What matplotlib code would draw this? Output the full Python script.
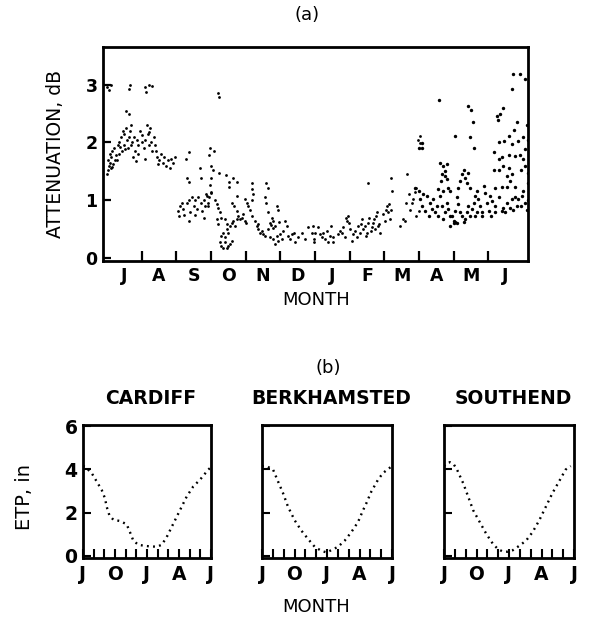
import numpy as np
import matplotlib
matplotlib.use('Agg')
import matplotlib.pyplot as plt

# ---- (a) attenuation, dB vs month (0 = start of July) ----
# Jul - Aug
jul_aug_x = [0.0, 0.05, 0.1, 0.65, 0.63, 1.1, 1.2, 1.3, 1.12, 0.55, 0.62,
             0.0, 0.02, 0.05, 0.03, 0.08, 0.1, 0.12, 0.15, 0.18, 0.2, 0.22, 0.25,
             0.3, 0.33, 0.35, 0.4, 0.42, 0.45, 0.48, 0.5, 0.55, 0.58, 0.6, 0.62,
             0.65, 0.7, 0.72, 0.75, 0.78, 0.8, 0.82, 0.85, 0.9, 0.95, 1.0, 1.05,
             1.1, 1.15, 1.18, 1.2, 1.25, 1.28, 1.3, 1.35, 1.4, 1.45, 1.5, 1.55,
             1.6, 1.65, 1.7, 1.75, 1.8, 1.85, 1.9, 1.95,
             0.07, 0.14, 0.28, 0.38, 0.52, 0.68, 0.88, 1.02, 1.08, 1.22, 1.38, 1.48]
jul_aug_db = [2.95, 2.9, 3.0, 3.0, 2.93, 2.95, 3.0, 2.97, 2.88, 2.55, 2.5,
              1.45, 1.52, 1.6, 1.7, 1.65, 1.55, 1.75, 1.85, 1.62, 1.9, 1.7, 1.78,
              1.95, 2.0, 1.8, 2.1, 1.85, 2.2, 1.95, 2.15, 2.25, 2.05, 1.9, 2.1,
              2.2, 1.95, 2.0, 1.75, 2.1, 1.85, 1.68, 2.05, 1.95, 2.2, 2.0, 1.9,
              2.05, 2.3, 2.15, 1.95, 2.25, 2.0, 1.85, 2.1, 1.85, 1.75, 1.7, 1.8,
              1.65, 1.75, 1.6, 1.7, 1.55, 1.72, 1.65, 1.75,
              1.8, 1.58, 1.7, 1.92, 1.88, 2.3, 1.8, 2.12, 1.72, 2.18, 1.95, 1.62]

# Sep - Nov
sep_nov_x = [2.27, 2.37, 2.3, 2.37, 2.68, 2.7,
             2.05, 2.07, 2.1, 2.15, 2.2, 2.22, 2.3, 2.35, 2.38, 2.45, 2.5, 2.55,
             2.6, 2.62, 2.7, 2.75, 2.8, 2.85, 2.9, 2.95, 3.0, 2.35, 2.55, 2.8,
             3.21, 3.23, 2.96, 2.94, 3.09, 3.0, 3.06, 3.23, 3.42, 3.64, 3.52, 3.76,
             3.52, 3.74, 2.99, 2.97, 3.0, 2.87, 2.9, 2.82, 3.11, 3.16, 3.21, 3.26,
             3.3, 3.16, 3.21,
             3.26, 3.3, 3.35, 3.4, 3.45, 3.5, 3.55, 3.59, 3.3, 3.35, 3.4, 3.5,
             3.45, 3.55, 3.59, 3.64, 3.69, 3.74,
             3.4, 3.45, 3.59, 3.67, 3.74, 3.79, 3.83, 3.88, 3.93, 3.98, 4.02, 4.07,
             3.98, 4.05, 4.12, 4.17, 4.17, 4.19, 4.22, 4.17,
             4.27, 4.32, 4.36, 4.41, 4.46, 4.36, 4.51, 4.56, 4.6, 4.63, 4.56, 4.6,
             4.65, 4.7, 4.75, 4.79, 4.84, 4.89, 4.94, 4.7, 4.79, 4.84, 4.89, 4.99,
             5.04, 4.65, 4.72, 4.8, 4.95, 4.92]
sep_nov_db = [1.71, 1.83, 1.39, 1.31, 1.55, 1.38,
              0.82, 0.72, 0.9, 0.95, 0.85, 0.75, 0.95, 1.0, 0.8, 1.05, 0.9, 1.0,
              0.85, 1.05, 0.95, 0.82, 1.0, 1.1, 0.9, 1.05, 1.15, 0.65, 0.75, 0.7,
              2.86, 2.79, 1.91, 1.79, 1.85, 1.59, 1.52, 1.47, 1.43, 1.39, 1.31, 1.31,
              1.23, 1.08, 1.39, 1.27, 1.13, 1.07, 0.96, 0.9, 1.0, 0.93, 0.87, 0.79,
              0.7, 0.67, 0.59,
              0.27, 0.21, 0.18, 0.27, 0.18, 0.21, 0.24, 0.3, 0.38, 0.44, 0.36, 0.44,
              0.5, 0.56, 0.61, 0.64, 0.56, 0.67,
              0.67, 0.59, 0.96, 0.9, 0.82, 0.73, 0.67, 0.7, 0.76, 0.64, 0.61, 0.9,
              1.02, 0.96, 0.84, 0.73, 1.3, 1.19, 1.1, 1.0,
              0.64, 0.56, 0.5, 0.44, 0.47, 0.59, 0.41, 0.38, 1.3, 1.22, 1.05, 0.96,
              0.5, 0.61, 0.7, 0.64, 0.56, 0.9, 0.84, 0.36, 0.33, 0.24, 0.38, 0.41,
              0.33, 0.8, 0.58, 0.52, 0.62, 0.3]

# Dec - Mar
dec_mar_x = [5.09, 5.14, 5.18, 5.23, 5.28, 5.33, 5.38, 5.42, 5.52, 5.62, 5.71,
             5.81, 5.91, 5.95, 5.98,
             6.0, 5.97, 6.1, 6.14, 6.19, 6.24, 6.29, 6.34, 6.39, 6.43, 6.45, 6.51,
             6.53, 6.67, 6.72,
             6.77, 6.82, 6.87, 6.9, 6.93, 6.96, 6.99, 7.01, 7.06, 7.11, 7.16, 7.2,
             7.25, 7.3, 7.32, 7.35, 7.4, 7.45, 7.47, 7.51, 7.54, 7.57, 7.61, 7.64,
             7.67, 7.71, 7.74, 7.76, 7.8, 7.83, 7.86, 7.88,
             7.97, 8.02, 8.05, 8.09, 8.12, 8.17, 8.19, 8.15, 8.22, 8.19, 7.54, 8.46,
             8.55, 8.63, 8.65, 8.74, 8.79, 8.84, 8.92, 8.99, 8.92, 8.96, 9.02, 9.04,
             8.6, 8.7, 8.88]
dec_mar_db = [0.47, 0.64, 0.56, 0.38, 0.33, 0.41, 0.44, 0.27, 0.36, 0.44, 0.33,
              0.53, 0.44, 0.56, 0.33,
              0.44, 0.28, 0.53, 0.41, 0.36, 0.44, 0.33, 0.47, 0.27, 0.38, 0.56, 0.27,
              0.36, 0.41, 0.47,
              0.44, 0.53, 0.36, 0.7, 0.64, 0.73, 0.61, 0.5, 0.3, 0.41, 0.47, 0.36,
              0.56, 0.44, 0.59, 0.67, 0.5, 0.56, 0.38, 0.44, 0.61, 0.7, 0.47, 0.53,
              0.61, 0.67, 0.5, 0.73, 0.79, 0.56, 0.59, 0.44,
              0.76, 0.64, 0.84, 0.9, 0.79, 0.67, 0.84, 0.93, 1.16, 1.39, 1.3, 0.56,
              0.67, 0.96, 1.45, 0.84, 0.96, 1.02, 1.22, 0.82, 0.73, 2.05, 1.99, 2.11,
              0.65, 1.1, 1.15]

# Apr - Jun
apr_jun_x = [9.08, 8.99, 9.1, 9.58,
             8.89, 8.99, 9.03, 9.08, 9.13, 9.18, 9.23, 9.28, 9.32, 9.37, 9.42, 9.47,
             9.52, 9.56, 9.61, 9.66, 9.71, 9.76, 9.81, 9.85, 9.9, 9.61, 9.71, 9.81,
             9.76, 9.66, 9.64, 9.74, 9.81, 9.85, 9.9, 9.56, 9.71, 10.05, 10.0, 9.9,
             10.05, 10.48, 10.43, 10.51, 10.55, 10.58,
             10.14, 10.19, 10.24, 10.29, 10.33, 10.38, 10.43, 10.48, 10.09, 10.14,
             10.05, 10.19, 10.24, 10.33, 10.38, 10.43, 10.48, 10.53, 10.58, 10.62,
             10.67, 10.72, 10.77, 10.82, 10.87, 10.91, 10.96, 11.01, 9.95, 10.0,
             10.09, 10.29, 10.62, 10.67, 10.82,
             11.73, 11.93, 12.07, 11.69, 11.44, 11.35, 11.28, 11.25,
             11.83, 11.76, 11.61, 11.47, 11.3, 11.69, 11.86, 12.0, 12.16, 12.07,
             11.93, 11.78, 11.59, 11.41, 11.3, 11.18, 11.16, 11.3, 11.44, 11.59,
             11.69, 11.54, 11.64, 11.78, 11.54, 11.4, 11.2, 12.0, 12.07, 12.16, 11.96,
             11.06, 11.11, 11.2, 11.3, 11.4, 11.44, 11.54, 11.64, 11.69, 11.78,
             11.83, 11.86, 11.97, 12.0, 12.07, 12.12, 11.96, 11.73, 11.49, 11.2,
             11.09, 12.15, 12.15, 12.12]
apr_jun_db = [1.99, 1.91, 1.91, 2.73,
              1.22, 1.16, 1.02, 0.9, 1.1, 0.81, 1.07, 0.73, 0.96, 0.85, 1.02, 0.79,
              0.9, 0.73, 1.07, 0.9, 0.67, 0.79, 0.96, 0.85, 0.73, 1.65, 1.59, 1.62,
              1.5, 1.45, 1.33, 1.42, 1.36, 1.22, 1.16, 1.19, 1.16, 0.63, 0.6, 0.56,
              2.11, 2.1, 2.63, 2.56, 2.35, 1.91,
              1.22, 1.33, 1.45, 1.53, 1.39, 1.3, 1.48, 1.22, 1.05, 0.93,
              0.82, 0.79, 0.73, 0.67, 0.79, 0.9, 0.73, 0.85, 0.96, 1.07,
              1.16, 1.02, 0.9, 0.79, 1.25, 1.13, 0.96, 0.81, 0.73, 0.65,
              0.6, 0.62, 0.73, 0.79, 0.73,
              3.19, 3.19, 3.09, 2.92, 2.6, 2.5, 2.39, 2.45,
              2.35, 2.21, 2.11, 2.02, 2.0, 1.97, 2.02, 2.1, 2.05, 1.88,
              1.79, 1.77, 1.79, 1.74, 1.71, 1.83, 1.53, 1.53, 1.59, 1.56,
              1.45, 1.42, 1.33, 1.23, 1.23, 1.23, 1.22, 1.71, 1.59, 1.48, 1.53,
              1.08, 0.99, 0.9, 1.05, 0.81, 0.87, 0.96, 0.87, 1.02, 1.05,
              0.9, 1.02, 1.08, 1.16, 0.96, 0.84, 0.9, 0.84, 0.79, 0.79,
              0.73, 1.3, 1.0, 2.3]

top_month_labels = ['J', 'A', 'S', 'O', 'N', 'D', 'J', 'F', 'M', 'A', 'M', 'J']

# ---- (b) ETP, in vs month (0 = July, 12 = next July) ----
stations = ['CARDIFF', 'BERKHAMSTED', 'SOUTHEND']
cardiff_m = [0.0, 0.19, 0.81, 1.28, 1.75, 2.06, 2.22, 2.47, 2.84, 3.47, 4.09, 4.4,
             4.72, 5.19, 5.97, 6.91, 7.38, 7.84, 8.31, 8.78, 9.25, 9.72, 10.34,
             10.97, 11.75, 12.0]
cardiff_etp = [4.15, 4.12, 3.83, 3.44, 3.05, 2.66, 2.27, 1.88, 1.67, 1.61, 1.46,
               1.1, 0.7, 0.51, 0.45, 0.42, 0.51, 0.86, 1.33, 1.8, 2.27, 2.74, 3.21,
               3.52, 3.99, 4.1]
berk_m = [0.0, 0.4, 1.02, 1.48, 1.94, 2.4, 3.02, 3.63, 4.25, 4.86, 5.48, 5.94,
          6.4, 7.02, 7.63, 8.25, 8.86, 9.33, 9.63, 10.09, 10.71, 11.17, 11.79, 12.0]
berk_etp = [4.15, 4.15, 3.99, 3.44, 2.9, 2.27, 1.64, 1.17, 0.78, 0.42, 0.23, 0.16,
            0.26, 0.42, 0.7, 1.1, 1.56, 2.11, 2.43, 2.97, 3.52, 3.83, 4.07, 4.15]
south_m = [0.0, 0.3, 0.55, 0.9, 1.2, 1.77, 2.23, 2.69, 3.3, 3.91, 4.52, 4.98, 5.43,
           5.89, 6.35, 6.96, 7.57, 8.18, 8.79, 9.4, 10.01, 10.62, 11.23, 11.7]
south_etp = [4.15, 4.3, 4.33, 4.23, 3.99, 3.36, 2.74, 2.11, 1.56, 1.01, 0.55, 0.31,
             0.2, 0.19, 0.26, 0.47, 0.7, 1.1, 1.64, 2.27, 2.9, 3.44, 3.99, 4.15]
bottom_month_labels = ['J', 'O', 'J', 'A', 'J']

W, H = 593, 621
fig = plt.figure(figsize=(W / 100, H / 100), dpi=100, facecolor='white')
plt.rcParams['font.family'] = ['DejaVu Sans']

# ---------------- panel (a) ----------------
ax = fig.add_axes([103 / W, 1 - 261 / H, 425 / W, 214 / H])
ax.scatter(jul_aug_x, jul_aug_db, s=4, c='black', linewidths=0)
ax.scatter(sep_nov_x, sep_nov_db, s=4, c='black', linewidths=0)
ax.scatter(dec_mar_x, dec_mar_db, s=4, c='black', linewidths=0)
ax.scatter(apr_jun_x, apr_jun_db, s=6, c='black', linewidths=0)
ax.set_xlim(-0.12, 12.15)
ax.set_ylim(-0.05, 3.65)
ax.set_xticks(np.arange(1, 12))
ax.set_xticklabels([])
ax.set_xticks(np.arange(12) + 0.5, minor=True)
ax.set_xticklabels(top_month_labels, minor=True, fontsize=12.5, fontweight='bold')
ax.tick_params(axis='x', which='major', direction='in', length=7, width=1.6)
ax.tick_params(axis='x', which='minor', length=0, pad=4)
ax.set_yticks([0, 1, 2, 3])
ax.set_yticklabels(['0', '1', '2', '3'], fontsize=12.5, fontweight='bold')
ax.tick_params(axis='y', direction='in', length=6, width=1.6, pad=4)
for sp in ax.spines.values():
    sp.set_linewidth(2.0)
ax.set_ylabel('ATTENUATION, dB', fontsize=13.5)
ax.yaxis.set_label_coords(-0.09, 0.5)

fig.text(307 / W, 1 - 15 / H, '(a)', fontsize=13, ha='center', va='center')
fig.text(316 / W, 1 - 300 / H, 'MONTH', fontsize=13, ha='center', va='center')

# ---------------- panel (b) ----------------
fig.text(328 / W, 1 - 368 / H, '(b)', fontsize=13, ha='center', va='center')
fig.text(316 / W, 1 - 607 / H, 'MONTH', fontsize=13, ha='center', va='center')
fig.text(25 / W, 1 - 497 / H, 'ETP, in', fontsize=14, rotation=90,
         ha='center', va='center')

lefts = [83, 262, 444]
widths = [128, 130, 130]
curves = [(cardiff_m, cardiff_etp), (berk_m, berk_etp), (south_m, south_etp)]
for i, name in enumerate(stations):
    bx = fig.add_axes([lefts[i] / W, 1 - 558 / H, widths[i] / W, 133 / H])
    mx, ev = curves[i]
    bx.plot(mx, ev, color='black', linewidth=1.7, linestyle=(0, (0.8, 1.8)))
    bx.set_xlim(0, 12)
    bx.set_ylim(-0.1, 6.05)
    bx.set_yticks([0, 2, 4, 6])
    if i == 0:
        bx.set_yticklabels(['0', '2', '4', '6'], fontsize=13.5, fontweight='bold')
    else:
        bx.set_yticklabels([])
    bx.tick_params(axis='y', direction='in', length=6, width=1.5, pad=4)
    bx.set_xticks([0, 3, 6, 9, 12])
    bx.set_xticklabels(bottom_month_labels, fontsize=13.5, fontweight='bold')
    bx.set_xticks(np.arange(1, 12), minor=True)
    # month ticks: short, pointing into the panel
    bx.xaxis.set_tick_params(which='major', direction='in', length=6.5, width=1.5,
                             pad=5)
    bx.xaxis.set_tick_params(which='minor', direction='in', length=6.5, width=1.5)
    for sp in bx.spines.values():
        sp.set_linewidth(2.0)
    cx = (lefts[i] + widths[i] / 2 + 4) / W
    fig.text(cx, 1 - 398 / H, name, fontsize=13.5, fontweight='bold',
             ha='center', va='center')

plt.savefig('out.png', dpi=100, facecolor='white')
plt.close()
